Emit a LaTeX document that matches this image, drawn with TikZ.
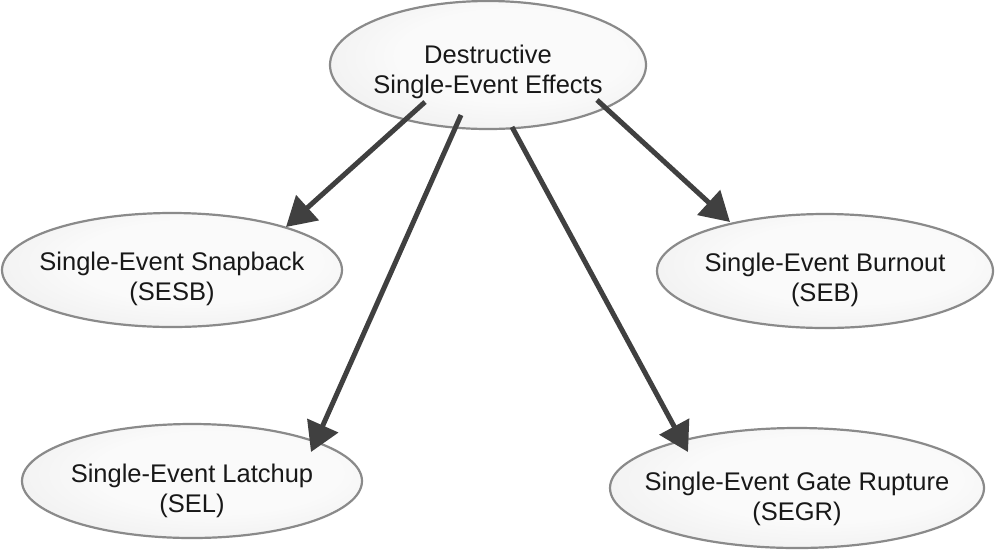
\documentclass[tikz,border=0pt]{standalone}
\usepackage{fontspec}
\setmainfont{Liberation Sans}
\usetikzlibrary{shapes.geometric,arrows.meta}
\definecolor{ellin}{RGB}{250,250,250}
\definecolor{ellmid}{RGB}{240,240,240}
\definecolor{ellmid2}{RGB}{226,226,226}
\definecolor{ellout}{RGB}{206,206,206}
\definecolor{ellborder}{RGB}{138,138,138}
\definecolor{arrcol}{RGB}{64,64,64}
\definecolor{txtcol}{RGB}{24,24,24}
\pgfdeclareradialshading{ellshade}{\pgfpoint{5bp}{5bp}}{%
  color(0bp)=(ellin); color(18bp)=(ellin); color(32bp)=(ellmid);
  color(43bp)=(ellmid2); color(52bp)=(ellout); color(70bp)=(ellout)}
\tikzset{
  ell/.style={ellipse, draw=ellborder, line width=2.2pt, inner sep=0pt,
    shading=ellshade},
  lbl/.style={align=center, text=txtcol, inner sep=0pt,
    font=\fontsize{25.5}{30}\selectfont},
  arr/.style={draw=arrcol, line width=5pt,
    -{Triangle[length=29pt,width=33pt]}}
}
\begin{document}
\begin{tikzpicture}[x=1pt,y=-1pt]
\useasboundingbox (0,0) rectangle (1000,550);
% ellipses
\node[ell, minimum width=316pt, minimum height=128pt] (top) at (488,65) {};
\node[ell, minimum width=340pt, minimum height=114pt] (sesb) at (172,270) {};
\node[ell, minimum width=336pt, minimum height=114pt] (seb) at (825,271) {};
\node[ell, minimum width=340pt, minimum height=114pt] (sel) at (192,481) {};
\node[ell, minimum width=374pt, minimum height=120pt] (segr) at (797,488) {};
% texts
\node[lbl] (ttop) at ([shift={(0,7)}]top.center) {Destructive\\Single-Event Effects};
\node[lbl] (tsesb) at ([shift={(0,9)}]sesb.center) {Single-Event Snapback\\(SESB)};
\node[lbl] (tseb) at ([shift={(0,9)}]seb.center) {Single-Event Burnout\\(SEB)};
\node[lbl] (tsel) at ([shift={(0,10)}]sel.center) {Single-Event Latchup\\(SEL)};
\node[lbl] (tsegr) at ([shift={(0,11)}]segr.center) {Single-Event Gate Rupture\\(SEGR)};
% arrows
\draw[arr] ([shift={(-63,37)}]top.center) -- ([shift={(114,-43)}]sesb.center);
\draw[arr] ([shift={(-27,50)}]top.center) -- ([shift={(119,-29)}]sel.center);
\draw[arr] ([shift={(24,62)}]top.center) -- ([shift={(-109,-36)}]segr.center);
\draw[arr] ([shift={(109,35)}]top.center) -- ([shift={(-95,-49)}]seb.center);
\end{tikzpicture}
\end{document}
